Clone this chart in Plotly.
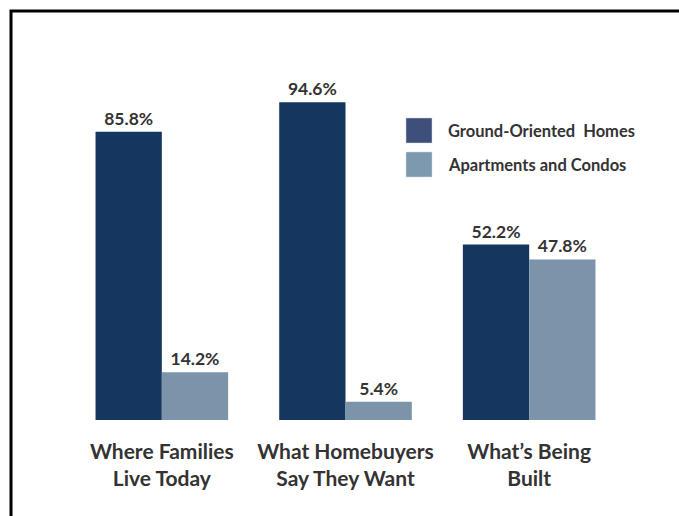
import plotly.graph_objects as go

# Housing type shares by perspective
categories = ["Where Families<br>Live Today",
              "What Homebuyers<br>Say They Want",
              "What’s Being<br>Built"]
ground_oriented = [85.8, 94.6, 52.2]
apartments = [14.2, 5.4, 47.8]
series_names = ["Ground-Oriented  Homes", "Apartments and Condos"]

bar_colors = ["#15365f", "#7b94a9"]
key_colors = ["#3f4f7c", "#7d99b0"]
text_color = "#333333"
font_family = "Lato, 'Open Sans', sans-serif"

# plot area geometry in pixels (used to place the key and frame in paper units)
W, H = 679, 516
L, R, T, B = 70, 58, 84, 96
pw, ph = W - L - R, H - T - B


def px_x(x):
    return (x - L) / pw


def px_y(y):
    return (H - B - y) / ph


fig = go.Figure()
for name, vals, col in zip(series_names, [ground_oriented, apartments], bar_colors):
    fig.add_trace(go.Bar(
        name=name, x=categories, y=vals,
        marker=dict(color=col, line=dict(width=0)),
        texttemplate="%{y:.1f}%", textposition="outside",
        textfont=dict(family=font_family, size=17.5, color=text_color, weight="bold"),
        cliponaxis=False, showlegend=False,
    ))

shapes = []
annotations = []
# custom key with large swatches
key_tops = [118, 152]
for name, col, top in zip(series_names, key_colors, key_tops):
    shapes.append(dict(type="rect", xref="paper", yref="paper",
                       x0=px_x(406), x1=px_x(432), y0=px_y(top + 25), y1=px_y(top),
                       fillcolor=col, line=dict(width=0.5, color="#d0d6de")))
    annotations.append(dict(xref="paper", yref="paper", x=px_x(446), y=px_y(top + 12.5),
                            xanchor="left", yanchor="middle", showarrow=False,
                            text=name,
                            font=dict(family=font_family, size=16.5, color=text_color, weight="bold")))

# frame along the top and left edges
shapes.append(dict(type="path", xref="paper", yref="paper",
                   path=f"M {px_x(11)} {px_y(H + 5)} L {px_x(11)} {px_y(11)} L {px_x(W + 5)} {px_y(11)}",
                   line=dict(color="black", width=3)))

fig.update_layout(
    width=W, height=H,
    margin=dict(l=L, r=R, t=T, b=B),
    barmode="group", bargap=0.278, bargroupgap=0,
    plot_bgcolor="white", paper_bgcolor="white",
    shapes=shapes, annotations=annotations,
    showlegend=False,
)
fig.update_xaxes(
    showgrid=False, zeroline=False, showline=False, ticks="",
    ticklabelstandoff=17,
    tickfont=dict(family=font_family, size=21, color=text_color, weight="bold"),
)
fig.update_yaxes(range=[0, 100], visible=False, showgrid=False, zeroline=False)

fig.write_html("out.html")
